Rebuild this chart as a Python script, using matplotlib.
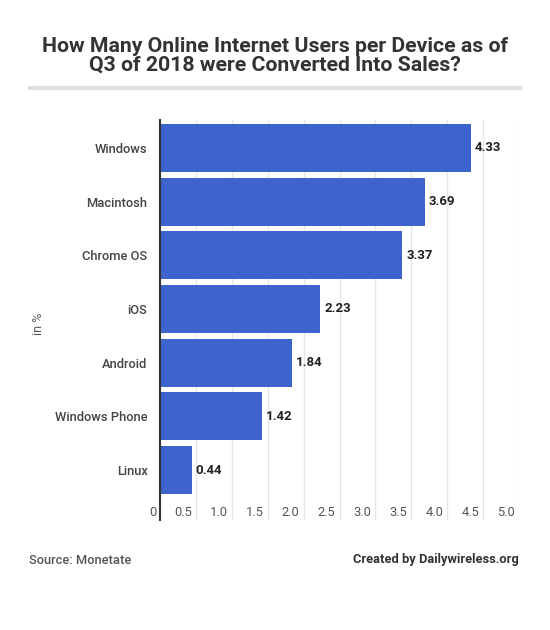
import matplotlib.pyplot as plt
import matplotlib.transforms as mtransforms
from matplotlib.lines import Line2D

plt.rcParams['font.family'] = ['Roboto', 'DejaVu Sans']

devices = ['Windows', 'Macintosh', 'Chrome OS', 'iOS', 'Android', 'Windows Phone', 'Linux']
conversion = [4.33, 3.69, 3.37, 2.23, 1.84, 1.42, 0.44]
xticks = [0, 0.5, 1.0, 1.5, 2.0, 2.5, 3.0, 3.5, 4.0, 4.5, 5.0]
xtick_labels = ['0', '0.5', '1.0', '1.5', '2.0', '2.5', '3.0', '3.5', '4.0', '4.5', '5.0']

fig = plt.figure(figsize=(5.5, 6.3), dpi=100)
ax = fig.add_axes([160 / 550, 1 - 520 / 630, 359 / 550, 400 / 630])

pos = list(range(len(devices)))
ax.barh(pos, conversion, height=0.89, color='#3d63cc', zorder=3)
ax.set_xlim(0, 5)
ax.set_ylim(6.93, -0.52)

ax.set_xticks(xticks)
ax.set_xticklabels([])
ax.tick_params(axis='x', length=0)
ax.grid(axis='x', color='#e6e6e6', linewidth=1, zorder=0)

ax.set_yticks(pos)
ax.set_yticklabels(devices, fontsize=9.3, color='#444444', fontweight='medium')
ax.tick_params(axis='y', length=0, pad=9)

for s in ['top', 'right', 'bottom']:
    ax.spines[s].set_visible(False)
ax.spines['left'].set_color('#333333')
ax.spines['left'].set_linewidth(1.5)
ax.spines['left'].set_zorder(4)

# tick labels sit just left of their gridline, inside the plot
trans = mtransforms.blended_transform_factory(ax.transData, ax.transAxes)
off = mtransforms.offset_copy(trans, fig=fig, x=-4, y=0, units='dots')
for t, lab in zip(xticks, xtick_labels):
    ax.text(t, 0.02, lab, transform=off, ha='right', va='center',
            fontsize=9.3, color='#555555')

for p, v in zip(pos, conversion):
    ax.annotate(f'{v:.2f}', (v, p), xytext=(3, 0), textcoords='offset points',
                ha='left', va='center', fontsize=9.5, fontweight='bold', color='#222222')

ax.set_ylabel('in %', fontsize=9, color='#555555', labelpad=0)
ax.yaxis.set_label_coords(-115 / 359, 0.49)

fig.text(0.5, 1 - 55.5 / 630, 'How Many Online Internet Users per Device as of\nQ3 of 2018 were Converted Into Sales?',
         ha='center', va='center', fontsize=15.3, fontweight='bold', color='#333333', linespacing=1.0)
fig.add_artist(Line2D([30 / 550, 520 / 550], [1 - 88 / 630, 1 - 88 / 630],
                      color='#e0e0e0', linewidth=3))

fig.text(29 / 550, 1 - 560 / 630, 'Source: Monetate', ha='left', va='center',
         fontsize=9.3, color='#555555', fontweight='medium')
fig.text(519 / 550, 1 - 560 / 630, 'Created by Dailywireless.org', ha='right', va='center',
         fontsize=9.3, color='#333333', fontweight='bold')

fig.savefig('out.png', dpi=100)
